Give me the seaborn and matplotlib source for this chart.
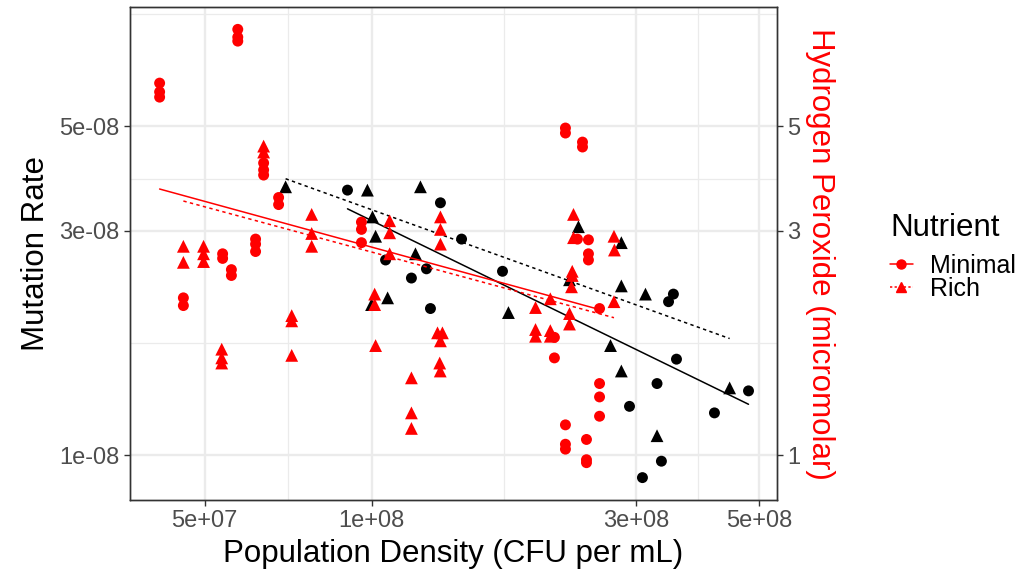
import numpy as np
import pandas as pd
import matplotlib
matplotlib.use("Agg")
import matplotlib.pyplot as plt
import seaborn as sns
from matplotlib.lines import Line2D
from matplotlib.ticker import FixedLocator, NullLocator, NullFormatter

# ---------------- data ----------------
# Mutation rate (black), Minimal medium
mut_min_density = [9.05e7, 1.331e8, 1.453e8, 1.06e8, 1.256e8, 1.18e8, 1.277e8, 1.722e8,
                   3.50e8, 3.43e8, 3.545e8, 3.27e8, 2.917e8, 4.15e8, 4.78e8, 3.33e8, 3.078e8]
mut_min_rate = [3.66e-8, 3.44e-8, 2.88e-8, 2.60e-8, 2.49e-8, 2.38e-8, 2.05e-8, 2.46e-8,
                2.20e-8, 2.12e-8, 1.60e-8, 1.42e-8, 1.27e-8, 1.23e-8, 1.37e-8, 0.971e-8, 0.896e-8]
# Mutation rate (black), Rich medium
mut_rich_density = [7.00e7, 9.83e7, 1.225e8, 1.004e8, 1.017e8, 1.20e8, 1.069e8, 1.0e8,
                    2.36e8, 2.82e8, 2.274e8, 2.82e8, 3.117e8, 1.765e8, 2.696e8, 2.82e8, 4.42e8, 3.27e8]
mut_rich_rate = [3.72e-8, 3.66e-8, 3.72e-8, 3.21e-8, 2.92e-8, 2.68e-8, 2.16e-8, 2.09e-8,
                 3.06e-8, 2.83e-8, 2.36e-8, 2.29e-8, 2.20e-8, 2.01e-8, 1.71e-8, 1.51e-8, 1.39e-8, 1.10e-8]
# Hydrogen peroxide (red, micromolar), Minimal medium
h2o2_min_density = [4.15e7, 4.15e7, 4.15e7, 5.74e7, 5.74e7, 5.74e7, 6.39e7, 6.39e7, 6.39e7,
                    6.80e7, 6.80e7, 9.59e7, 9.59e7, 9.59e7, 6.18e7, 6.18e7, 6.18e7, 5.39e7, 5.39e7,
                    5.59e7, 5.59e7, 4.58e7, 4.58e7, 2.236e8, 2.236e8, 2.40e8, 2.40e8, 2.35e8,
                    2.46e8, 2.46e8, 2.46e8, 2.576e8, 2.136e8, 2.136e8, 2.576e8, 2.576e8, 2.576e8,
                    2.236e8, 2.236e8, 2.236e8, 2.44e8, 2.44e8, 2.44e8]
h2o2_min_conc = [6.18, 5.92, 5.77, 8.04, 7.74, 7.59, 4.18, 4.04, 3.94,
                 3.53, 3.41, 3.13, 3.02, 2.83, 2.88, 2.81, 2.71, 2.68, 2.62,
                 2.48, 2.41, 2.16, 2.08, 4.96, 4.84, 4.63, 4.52, 2.88,
                 2.87, 2.68, 2.60, 2.05, 1.78, 1.61, 1.42, 1.33, 1.21,
                 1.16, 1.055, 1.03, 1.08, 0.978, 0.964]
# Hydrogen peroxide (red, micromolar), Rich medium
h2o2_rich_density = [6.39e7, 6.39e7, 4.58e7, 4.58e7, 4.98e7, 4.98e7, 4.98e7, 7.80e7, 7.80e7, 7.80e7,
                     1.078e8, 1.078e8, 1.078e8, 1.331e8, 1.331e8, 1.331e8, 1.013e8, 1.013e8, 1.017e8,
                     5.37e7, 5.37e7, 5.37e7, 7.18e7, 7.18e7, 7.18e7, 1.18e8, 1.18e8, 1.18e8,
                     1.315e8, 1.342e8, 1.331e8, 1.327e8, 1.33e8,
                     2.312e8, 2.312e8, 2.30e8, 2.30e8, 2.293e8, 2.735e8, 2.74e8, 2.735e8,
                     2.10e8, 1.975e8, 2.274e8, 2.274e8, 1.975e8, 1.975e8, 2.10e8, 2.10e8]
h2o2_rich_conc = [4.54, 4.41, 2.78, 2.57, 2.78, 2.68, 2.58, 3.25, 2.96, 2.78,
                  3.15, 2.97, 2.68, 3.21, 3.02, 2.81, 2.20, 2.09, 1.71,
                  1.68, 1.61, 1.57, 1.98, 1.93, 1.63, 1.46, 1.23, 1.14,
                  1.82, 1.82, 1.75, 1.57, 1.51,
                  3.25, 2.90, 2.46, 2.41, 2.28, 2.92, 2.73, 2.12,
                  2.15, 2.06, 2.00, 1.90, 1.85, 1.79, 1.84, 1.79]

# Trend lines: start/end density and value per group
trend_mut_min_density = [9.05e7, 4.78e8]
trend_mut_min_rate = [3.34e-8, 1.283e-8]
trend_mut_rich_density = [7.00e7, 4.42e8]
trend_mut_rich_rate = [3.87e-8, 1.77e-8]
trend_h2o2_min_density = [4.15e7, 2.576e8]
trend_h2o2_min_conc = [3.68, 2.04]
trend_h2o2_rich_density = [4.58e7, 2.735e8]
trend_h2o2_rich_conc = [3.47, 1.96]

x_ticks = [5e7, 1e8, 3e8, 5e8]
x_tick_labels = ["5e+07", "1e+08", "3e+08", "5e+08"]
y_ticks = [1e-8, 3e-8, 5e-8]
y_tick_labels = ["1e-08", "3e-08", "5e-08"]
y2_ticks = [1, 3, 5]
y2_tick_labels = ["1", "3", "5"]
x_minor = [7.07e7, 1.732e8, 3.873e8]
y_minor = [1.732e-8, 3.873e-8, 8.66e-8]

mut = pd.DataFrame({
    "density": mut_min_density + mut_rich_density,
    "value": mut_min_rate + mut_rich_rate,
    "Nutrient": ["Minimal"] * len(mut_min_density) + ["Rich"] * len(mut_rich_density),
})
h2o2 = pd.DataFrame({
    "density": h2o2_min_density + h2o2_rich_density,
    "value": h2o2_min_conc + h2o2_rich_conc,
    "Nutrient": ["Minimal"] * len(h2o2_min_density) + ["Rich"] * len(h2o2_rich_density),
})
mut_trend = pd.DataFrame({
    "density": trend_mut_min_density + trend_mut_rich_density,
    "value": trend_mut_min_rate + trend_mut_rich_rate,
    "Nutrient": ["Minimal"] * 2 + ["Rich"] * 2,
})
h2o2_trend = pd.DataFrame({
    "density": trend_h2o2_min_density + trend_h2o2_rich_density,
    "value": trend_h2o2_min_conc + trend_h2o2_rich_conc,
    "Nutrient": ["Minimal"] * 2 + ["Rich"] * 2,
})

# ---------------- style ----------------
sns.set_theme(style="white")
plt.rcParams["font.family"] = ["Liberation Sans", "DejaVu Sans"]
plt.rcParams["text.color"] = "black"
plt.rcParams["axes.labelcolor"] = "black"

FS_TITLE = 22.5
FS_TICK = 17
TICK_COL = "#4D4D4D"
GRID_COL = "#EBEBEB"
DASH = (0, (2.2, 2.2))

fig = plt.figure(figsize=(10.21, 5.79), dpi=100)
ax = fig.add_axes([130 / 1021, 1 - 500 / 579, (777 - 130) / 1021, (500 - 7) / 579])

xlim = (3.67e7, 5.38e8)
ylim = (8.03e-9, 8.97e-8)

ax.set_xscale("log")
ax.set_yscale("log")
ax.set_xlim(*xlim)
ax.set_ylim(*ylim)

# grid
for xv in x_minor:
    ax.axvline(xv, color=GRID_COL, lw=0.9, zorder=0)
for yv in y_minor:
    ax.axhline(yv, color=GRID_COL, lw=0.9, zorder=0)
for xv in x_ticks:
    ax.axvline(xv, color=GRID_COL, lw=1.7, zorder=0)
for yv in y_ticks:
    ax.axhline(yv, color=GRID_COL, lw=1.7, zorder=0)


def draw_layer(a, pts, trend, color):
    for nut, mk, size in [("Minimal", "o", 62), ("Rich", "^", 85)]:
        sub = pts[pts["Nutrient"] == nut]
        sns.scatterplot(data=sub, x="density", y="value", marker=mk, color=color, s=size,
                        edgecolor="none", linewidth=0, legend=False, ax=a, zorder=3)
    for nut, ls in [("Minimal", "-"), ("Rich", DASH)]:
        sub = trend[trend["Nutrient"] == nut]
        sns.lineplot(data=sub, x="density", y="value", color=color, lw=1.1, ax=a,
                     linestyle=ls, zorder=4, legend=False)


# black: mutation rate
draw_layer(ax, mut, mut_trend, "black")
ax.set_xlim(*xlim)
ax.set_ylim(*ylim)

# red: hydrogen peroxide (twin axis, micromolar)
ax2 = ax.twinx()
ax2.set_yscale("log")
ax2.set_ylim(ylim[0] * 1e8, ylim[1] * 1e8)
draw_layer(ax2, h2o2, h2o2_trend, "red")
ax2.set_xscale("log")
ax2.set_xlim(*xlim)
ax2.set_ylim(ylim[0] * 1e8, ylim[1] * 1e8)

# ticks
ax.xaxis.set_major_locator(FixedLocator(x_ticks))
ax.set_xticklabels(x_tick_labels)
ax.xaxis.set_minor_locator(NullLocator())
ax.yaxis.set_major_locator(FixedLocator(y_ticks))
ax.set_yticklabels(y_tick_labels)
ax.yaxis.set_minor_locator(NullLocator())
ax2.yaxis.set_major_locator(FixedLocator(y2_ticks))
ax2.set_yticklabels(y2_tick_labels)
ax2.yaxis.set_minor_locator(NullLocator())
ax2.yaxis.set_minor_formatter(NullFormatter())

for a in (ax, ax2):
    a.tick_params(axis="both", which="major", length=4.5, width=1.0, color="#333333",
                  labelsize=FS_TICK, labelcolor=TICK_COL, pad=3)
ax.tick_params(axis="x", bottom=True)
ax.tick_params(axis="y", left=True)
ax2.tick_params(axis="y", right=True)

for a in (ax, ax2):
    for sp in a.spines.values():
        sp.set_color("#333333")
        sp.set_linewidth(1.0)

ax.set_xlabel("Population Density (CFU per mL)", fontsize=FS_TITLE, color="black", labelpad=5)
ax.set_ylabel("Mutation Rate", fontsize=FS_TITLE, color="black", labelpad=6)
ax2.set_ylabel("Hydrogen Peroxide (micromolar)", fontsize=FS_TITLE, color="red",
               rotation=270, labelpad=25)

# legend
handles = [
    Line2D([], [], color="red", marker="o", linestyle="-", lw=1.1, markersize=6.5),
    Line2D([], [], color="red", marker="^", linestyle=(0, (1.5, 1.5)), lw=1.1, markersize=7.5),
]
leg = fig.legend(handles, ["Minimal", "Rich"], title="Nutrient", loc="upper left",
                 bbox_to_anchor=(880 / 1021, 1 - 203 / 579), frameon=False,
                 fontsize=18, title_fontsize=FS_TITLE, handlelength=0.9,
                 handletextpad=0.7, labelspacing=-0.05, borderaxespad=0)
leg._legend_box.align = "left"
leg._legend_box.sep = 8
leg.get_title().set_color("black")
for t in leg.get_texts():
    t.set_color("black")

fig.savefig("out.png", dpi=100)
